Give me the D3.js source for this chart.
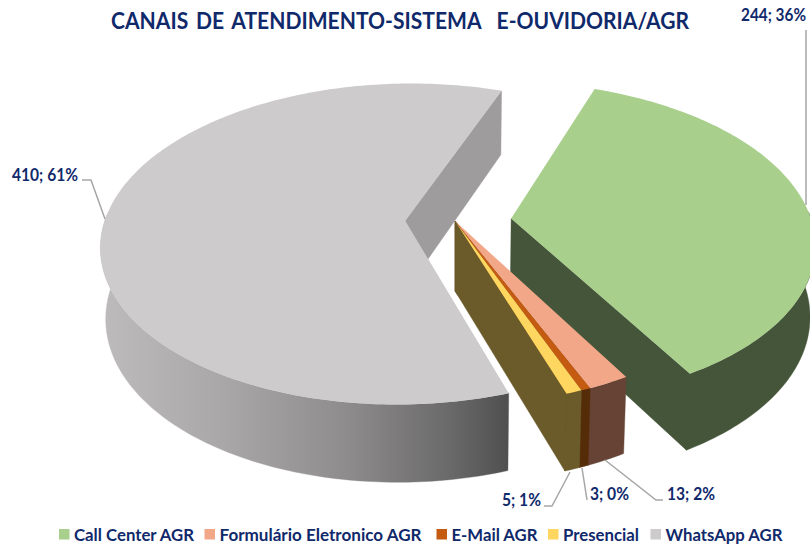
<!DOCTYPE html>
<html><head><meta charset="utf-8">
<script src="https://cdn.jsdelivr.net/npm/d3@7"></script>
<style>html,body{margin:0;padding:0;background:#fff}svg{display:block}text{font-family:Lato,Carlito,sans-serif;font-weight:700;fill:#10296B}</style>
</head><body><svg id="c" width="810" height="544"></svg>
<script>
const categories=["Call Center AGR","Formulário Eletronico AGR","E-Mail AGR","Presencial","WhatsApp AGR"];
const values=[244,13,3,5,410];
const labels=["244; 36%","13; 2%","3; 0%","5; 1%","410; 61%"];
const explosion=[0.187,0,0,0,0.165];
const topColors=["#A9CF8C","#F2A888","#C55A11","#FFD65F","#CDCBCC"];
const sideColors=["#445539","#664335","#552C08","#6B5A2A","#9E9C9D"];
const chartTitle="CANAIS DE ATENDIMENTO-SISTEMA  E-OUVIDORIA/AGR";

const svg=d3.select("#c");
// pie geometry
const cx=455,cy=221,rx=302,ry=158,k=0.146,k2=0.1,depth=70,bottomScale=0.985,R=0.995;
const sx=d3.scaleLinear().domain([-1,1]).range([-rx,rx]);
const sy=d3.scaleLinear().domain([-1,1]).range([-ry,ry]);
const rad=d=>d*Math.PI/180;
const pie=d3.pie().sort(null).startAngle(rad(20)).endAngle(rad(380));
const arcs=pie(values);
function world(d,i,a,r){
  const mid=(d.startAngle+d.endAngle)/2,e=explosion[i];
  return [e*Math.sin(mid)+r*Math.sin(a),-e*Math.cos(mid)-r*Math.cos(a)];
}
function topPt(p){const w=1-k*p[1];return [cx+sx(p[0])/w,cy+sy(p[1])/w];}
function botPt(p){const t=topPt(p);return [cx+(t[0]-cx)*bottomScale,t[1]+depth/(1-k2*p[1])];}
const line=d3.line().curve(d3.curveLinear);
const samples=(a0,a1)=>{const n=Math.max(2,Math.ceil((a1-a0)/rad(1)));return d3.range(n+1).map(j=>a0+(a1-a0)*j/n);};

const defs=svg.append("defs");
const g=defs.append("linearGradient").attr("id","waWall").attr("gradientUnits","userSpaceOnUse")
  .attr("x1",100).attr("x2",510).attr("y1",0).attr("y2",0);
[[0,"#BDBBBC"],[0.3,"#A9A7A8"],[0.6,"#8E8C8D"],[0.85,"#6B6A6A"],[1,"#504F4F"]].forEach(s=>g.append("stop").attr("offset",s[0]).attr("stop-color",s[1]));

const slices=svg.append("g").selectAll("g").data(arcs).join("g");
slices.each(function(d,i){
  const s=d3.select(this);
  const o=world(d,i,0,0);
  const wallFill=i===4?"url(#waWall)":sideColors[i];
  const radial=a=>{const e=world(d,i,a,R);return [topPt(o),topPt(e),botPt(e),botPt(o)];};
  const hasEnd=Math.sin(d.endAngle)>0;
  if(hasEnd) s.append("path").attr("d",line(radial(d.endAngle))+"Z").attr("fill",sideColors[i]).attr("stroke",sideColors[i]).attr("stroke-width",0.4);
  if(Math.sin(d.startAngle)<0) s.append("path").attr("d",line(radial(d.startAngle))+"Z").attr("fill",sideColors[i]).attr("stroke",sideColors[i]).attr("stroke-width",0.4);
  const all=samples(d.startAngle,d.endAngle);
  const as=all.map(a=>world(d,i,a,R));
  const front=all.filter(a=>Math.cos(a)<0.05).map(a=>world(d,i,a,R));
  s.append("path").attr("d",line(front.map(topPt).concat(front.slice().reverse().map(botPt)))+"Z")
    .attr("fill",wallFill).attr("stroke",wallFill).attr("stroke-width",0.4);
  // close the seam where the flat cut wall meets the curved wall
  if(hasEnd && i!==4){
    const e=world(d,i,d.endAngle,R);
    s.append("path").attr("d",line([topPt(e),botPt(e)])).attr("stroke",sideColors[i]).attr("stroke-width",1.2).attr("fill","none");
  }
  s.append("path").attr("d",line([topPt(o)].concat(as.map(topPt)))+"Z").attr("fill",topColors[i]);
});

// leaders and labels (layout only)
const leaders=[[[806,30],[806,205]],[[605,460],[656,500],[663,500]],[[582,468],[587,500]],[[570,472],[552,506],[544,506]],[[105,219],[91,180],[82,180]]];
const labelPos=[[741,21,65],[667,500,48],[590,500,39],[502,506,39],[12,181,66]];
svg.append("g").selectAll("path").data(leaders).join("path")
  .attr("d",d=>line(d)).attr("fill","none").attr("stroke","#A6A6A6").attr("stroke-width",1.5);
svg.append("g").selectAll("text").data(labels).join("text")
  .attr("x",(d,i)=>labelPos[i][0]).attr("y",(d,i)=>labelPos[i][1])
  .attr("textLength",(d,i)=>labelPos[i][2]).attr("lengthAdjust","spacingAndGlyphs")
  .attr("font-size",16.5).text(d=>d);

svg.append("text").attr("x",111).attr("y",29).attr("font-size",23)
  .attr("textLength",578).attr("lengthAdjust","spacingAndGlyphs")
  .style("white-space","pre").style("word-spacing","3px").text(chartTitle);

// legend
const legendX=[59,204.5,436.5,548,650.5];
const legendW=[120,202,86,76,117];
const lg=svg.append("g").selectAll("g").data(categories).join("g").attr("transform",(d,i)=>`translate(${legendX[i]},529)`);
lg.append("rect").attr("width",10.5).attr("height",10.5).attr("fill",(d,i)=>topColors[i]);
lg.append("text").attr("x",15).attr("y",11.5).attr("font-size",17.5)
  .attr("textLength",(d,i)=>legendW[i]).attr("lengthAdjust","spacingAndGlyphs").text(d=>d);
</script></body></html>
